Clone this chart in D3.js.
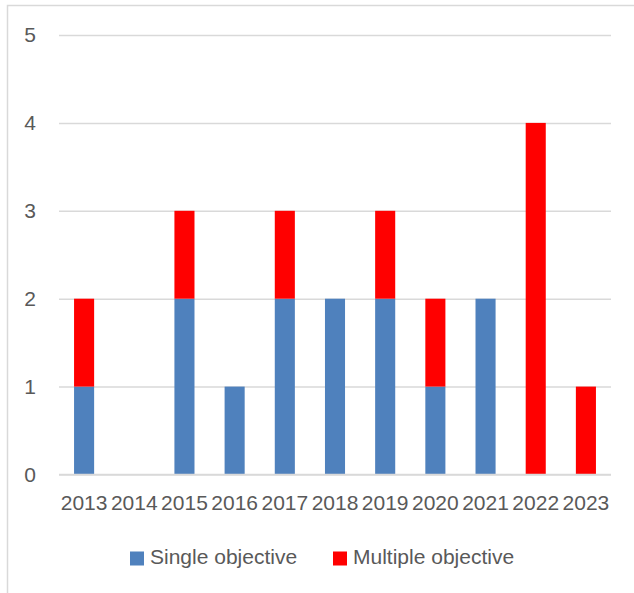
<!DOCTYPE html>
<html>
<head>
<meta charset="utf-8">
<script src="https://cdn.jsdelivr.net/npm/d3@7"></script>
<style>
  html, body { margin: 0; padding: 0; background: #fff; }
  svg { display: block; font-family: "Liberation Sans", Arial, sans-serif; }
</style>
</head>
<body>
<svg id="chart" width="634" height="593"></svg>
<script>
// Publications per year, split by optimisation type
const years = ["2013","2014","2015","2016","2017","2018","2019","2020","2021","2022","2023"];
const singleObjective   = [1, 0, 2, 1, 2, 2, 2, 1, 2, 0, 0];
const multipleObjective = [1, 0, 1, 0, 1, 0, 1, 1, 0, 4, 1];
const seriesNames = ["Single objective", "Multiple objective"];
const seriesColors = ["#4F81BD", "#FF0000"];
const yTicks = [0, 1, 2, 3, 4, 5];

const svg = d3.select("#chart");
const textColor = "#595959";
const gridColor = "#D9D9D9";

// Outer chart frame
svg.append("rect")
  .attr("x", 7.5).attr("y", 5.5)
  .attr("width", 700).attr("height", 700)
  .attr("fill", "none").attr("stroke", gridColor).attr("stroke-width", 1.5);

const plot = { left: 59, right: 611, top: 35, bottom: 474.5 };

const x = d3.scaleBand().domain(years).range([plot.left, plot.right]).paddingInner(0.6).paddingOuter(0.3);
const y = d3.scaleLinear().domain([0, 5]).range([plot.bottom, plot.top]);

// Gridlines and y labels
const yAxis = d3.axisLeft(y).tickValues(yTicks).tickSize(-(plot.right - plot.left)).tickPadding(23).tickFormat(d3.format("d"));
const gy = svg.append("g").attr("transform", `translate(${plot.left},0)`).call(yAxis);
gy.select(".domain").remove();
gy.selectAll(".tick line").attr("stroke", gridColor).attr("stroke-width", 1.5);
gy.selectAll(".tick text").attr("fill", textColor).attr("font-size", 21).attr("font-family", "Liberation Sans, Arial, sans-serif");

// Stacked bars
const rows = years.map((yr, i) => ({ year: yr, single: singleObjective[i], multiple: multipleObjective[i] }));
const stack = d3.stack().keys(["single", "multiple"])(rows);
svg.append("g").selectAll("g").data(stack).join("g")
  .attr("fill", (d, i) => seriesColors[i])
  .selectAll("rect").data(d => d).join("rect")
  .attr("x", d => x(d.data.year))
  .attr("width", x.bandwidth())
  .attr("y", d => y(d[1]))
  .attr("height", d => y(d[0]) - y(d[1]));

// Baseline
svg.append("line")
  .attr("x1", plot.left).attr("x2", plot.right)
  .attr("y1", y(0)).attr("y2", y(0))
  .attr("stroke", gridColor).attr("stroke-width", 1.5);

// X axis labels
const xAxis = d3.axisBottom(x).tickSize(0).tickPadding(21);
const gx = svg.append("g").attr("transform", `translate(0,${plot.bottom})`).call(xAxis);
gx.select(".domain").remove();
gx.selectAll(".tick text").attr("fill", textColor).attr("font-size", 21).attr("font-family", "Liberation Sans, Arial, sans-serif");

// Legend
const legendX = [130, 333];
const legend = svg.append("g");
seriesNames.forEach((name, i) => {
  legend.append("rect")
    .attr("x", legendX[i]).attr("y", 551.5)
    .attr("width", 14).attr("height", 14)
    .attr("fill", seriesColors[i]);
  legend.append("text")
    .attr("x", legendX[i] + 20).attr("y", 564)
    .attr("fill", textColor).attr("font-size", 21)
    .text(name);
});
</script>
</body>
</html>
